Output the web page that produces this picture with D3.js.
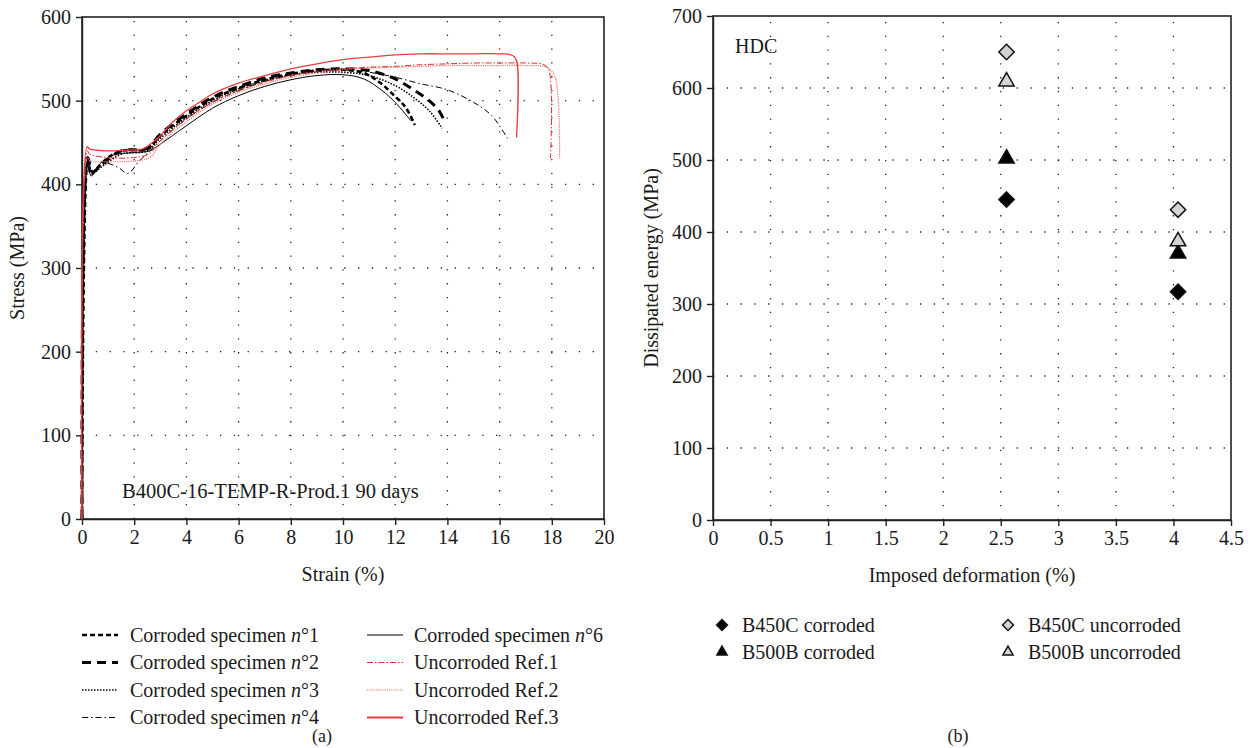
<!DOCTYPE html>
<html>
<head>
<meta charset="utf-8">
<script src="https://cdn.jsdelivr.net/npm/d3@7"></script>
<style>
  body { margin: 0; background: #fff; }
  svg text { font-family: "Liberation Serif", "Times New Roman", serif; fill: #1a1a1a; }
</style>
</head>
<body>
<div id="chart"></div>
<script>
// ---- data: panel (a), stress-strain curves [strain %, stress MPa]
const spec1 = [[0,0],[0.22,430],[0.35,412],[0.6,420],[1.0,432],[1.5,440],[2.0,441],[2.5,442],[3.0,458],[4.0,482],[5.0,502],[6.0,515],[7.0,525],[8.0,532],[9.0,536],[10.0,537],[10.8,533],[11.4,522],[12.0,505],[12.4,492],[12.75,471]];
const spec2 = [[0,0],[0.22,432],[0.4,415],[0.8,425],[1.5,440],[2.5,443],[3.0,460],[4.0,484],[5.0,504],[6.0,517],[7.0,527],[8.0,533],[9.0,537],[10.0,538],[11.0,536],[12.0,526],[12.7,513],[13.3,500],[13.7,487],[13.9,474]];
const spec3 = [[0,0],[0.22,428],[0.4,414],[0.8,422],[1.5,436],[2.5,440],[3.0,455],[4.0,480],[5.0,500],[6.0,514],[7.0,524],[8.0,531],[9.0,534],[10.0,534],[11.0,530],[12.0,518],[12.7,504],[13.3,488],[13.8,467]];
const spec4 = [[0,0],[0.22,430],[0.4,415],[0.9,425],[1.4,420],[1.75,413],[2.2,428],[2.6,440],[3.0,452],[4.0,478],[5.0,498],[6.0,512],[7.0,523],[8.0,530],[9.0,535],[10.0,537],[11.0,534],[12.0,528],[13.0,520],[14.0,513],[15.0,498],[15.7,482],[16.3,455]];
const spec6 = [[0,0],[0.22,425],[0.35,410],[0.7,425],[1.2,435],[2.0,438],[2.6,440],[3.0,448],[4.0,470],[5.0,491],[6.0,506],[7.0,517],[8.0,525],[9.0,530],[10.0,531],[10.8,526],[11.5,512],[12.0,498],[12.6,476]];
const ref1 = [[0,0],[0.2,440],[0.3,436],[1.0,432],[2.0,432],[2.6,437],[3.0,452],[4.0,478],[5.0,498],[6.0,512],[7.0,522],[8.0,530],[9.0,535],[10.0,538],[11.0,540],[12.0,541],[13.0,543],[14.0,544],[15.0,545],[16.0,545],[17.0,545],[17.7,543],[17.9,535],[17.95,431]];
const ref2 = [[0,0],[0.2,432],[0.3,428],[1.0,427],[2.0,428],[2.6,432],[3.0,448],[4.0,475],[5.0,496],[6.0,510],[7.0,520],[8.0,528],[9.0,533],[10.0,537],[11.0,539],[12.0,540],[13.0,541],[14.0,542],[15.0,542],[16.0,542],[17.0,542],[17.8,540],[18.1,530],[18.25,500],[18.3,431]];
const ref3 = [[0,0],[0.2,445],[0.3,442],[1.0,440],[1.8,441],[2.3,442],[2.7,450],[3.0,458],[3.5,475],[4.0,488],[4.6,500],[5.0,508],[6.0,521],[7.0,530],[8.0,538],[9.0,544],[10.0,549],[11.0,552],[12.2,555],[13.0,556],[14.0,556],[15.0,556],[16.0,556],[16.5,554],[16.65,548],[16.65,456]];

const curveNames = ["Corroded specimen n\u00b01", "Corroded specimen n\u00b02", "Corroded specimen n\u00b03",
  "Corroded specimen n\u00b04", "Corroded specimen n\u00b06", "Uncorroded Ref.1", "Uncorroded Ref.2", "Uncorroded Ref.3"];
const strainTicks = [0, 2, 4, 6, 8, 10, 12, 14, 16, 18, 20];
const stressTicks = [0, 100, 200, 300, 400, 500, 600];

// ---- data: panel (b), dissipated energy
const imposedDef = [2.55, 4.04];
const b450cCorroded = [445, 317];
const b500bCorroded = [502, 370];
const b450cUncorroded = [650, 431];
const b500bUncorroded = [609, 387];
const pointNames = ["B450C corroded", "B500B corroded", "B450C uncorroded", "B500B uncorroded"];
const defTicks = [0, 0.5, 1, 1.5, 2, 2.5, 3, 3.5, 4, 4.5];
const energyTicks = [0, 100, 200, 300, 400, 500, 600, 700];

const W = 1252, H = 748;
const FS = 20;
const svg = d3.select("#chart").append("svg").attr("width", W).attr("height", H);

const red = "#e42a2a";
const styles = [
  {stroke: "#000", width: 2.6, dash: "5,3"},
  {stroke: "#000", width: 3, dash: "9,6"},
  {stroke: "#000", width: 1.6, dash: "1.5,1.5"},
  {stroke: "#000", width: 1, dash: "6,3,1.5,3"},
  {stroke: "#000", width: 1, dash: null},
  {stroke: red, width: 1, dash: "6,2,1.5,2"},
  {stroke: "#f07070", width: 1.2, dash: "1.2,1"},
  {stroke: "#e63c3c", width: 1.3, dash: null}
];

function frame(g, x, y, xTicks, yTicks, fmtX) {
  let [x0, x1] = x.range();
  let [y0, y1] = y.range();
  // dotted grid
  g.selectAll(".gx").data(xTicks.slice(1, -1)).join("line")
    .attr("x1", d => x(d)).attr("x2", d => x(d)).attr("y1", y0).attr("y2", y1)
    .attr("stroke", "#222").attr("stroke-width", 1.3).attr("stroke-dasharray", "1.3,12.5");
  g.selectAll(".gy").data(yTicks.slice(1, -1)).join("line")
    .attr("class", "gy")
    .attr("x1", x0).attr("x2", x1).attr("y1", d => y(d)).attr("y2", d => y(d))
    .attr("stroke", "#222").attr("stroke-width", 1.3).attr("stroke-dasharray", "1.3,12.5");

  g.append("g").attr("transform", `translate(0,${y0})`)
    .call(d3.axisBottom(x).tickValues(xTicks).tickSize(6).tickSizeOuter(0).tickPadding(5).tickFormat(fmtX))
    .call(a => a.selectAll("text").attr("font-size", FS));
  g.append("g").attr("transform", `translate(${x0},0)`)
    .call(d3.axisLeft(y).tickValues(yTicks).tickSize(6).tickSizeOuter(0).tickPadding(5))
    .call(a => a.selectAll("text").attr("font-size", FS));
  g.selectAll(".domain, .tick line").attr("stroke", "#222").attr("stroke-width", 1.4);

  g.append("rect").attr("x", x0).attr("y", y1).attr("width", x1 - x0).attr("height", y0 - y1)
    .attr("fill", "none").attr("stroke", "#222").attr("stroke-width", 1.6);
}

// ---------- panel (a)
const xa = d3.scaleLinear().domain([0, 20]).range([82, 604]);
const ya = d3.scaleLinear().domain([0, 600]).range([519, 17]);
const ga = svg.append("g");
frame(ga, xa, ya, strainTicks, stressTicks, d3.format("d"));

const line = d3.line().x(d => xa(d[0])).y(d => ya(d[1])).curve(d3.curveCatmullRom.alpha(0.5));
const curves = [spec1, spec2, spec3, spec4, spec6, ref1, ref2, ref3];
// black first, red on top
const order = [4, 3, 2, 0, 1, 6, 5, 7];
order.forEach(i => {
  ga.append("path").datum(curves[i]).attr("d", line)
    .attr("fill", "none")
    .attr("stroke", styles[i].stroke)
    .attr("stroke-width", styles[i].width)
    .attr("stroke-dasharray", styles[i].dash);
});

ga.append("text").attr("x", 122).attr("y", 498).attr("font-size", 20.5)
  .text("B400C-16-TEMP-R-Prod.1 90 days");
ga.append("text").attr("x", 343).attr("y", 581).attr("text-anchor", "middle").attr("font-size", FS)
  .text("Strain (%)");
ga.append("text").attr("transform", "translate(24,268) rotate(-90)").attr("text-anchor", "middle")
  .attr("font-size", FS).text("Stress (MPa)");

// legend (a)
const legA = ga.append("g");
curveNames.forEach((name, i) => {
  let col = i < 4 ? 0 : 1;
  let row = i < 4 ? i : i - 4;
  let lx = col === 0 ? 82 : 367;
  let ly = 635 + row * 27.5;
  legA.append("line").attr("x1", lx).attr("x2", lx + 36).attr("y1", ly).attr("y2", ly)
    .attr("stroke", styles[i].stroke).attr("stroke-width", i === 7 ? 2 : styles[i].width)
    .attr("stroke-dasharray", styles[i].dash);
  let parts = name.match(/^(.*?)(n)(\u00b0\d)$/);
  let t = legA.append("text").attr("x", col === 0 ? 130 : 414).attr("y", ly + 6.5).attr("font-size", FS);
  if (parts) {
    t.append("tspan").text(parts[1]);
    t.append("tspan").attr("font-style", "italic").text(parts[2]);
    t.append("tspan").text(parts[3]);
  } else {
    t.text(name);
  }
});
ga.append("text").attr("x", 322).attr("y", 742).attr("text-anchor", "middle").attr("font-size", 18).text("(a)");

// ---------- panel (b)
const xb = d3.scaleLinear().domain([0, 4.5]).range([713, 1231]);
const yb = d3.scaleLinear().domain([0, 700]).range([520, 16]);
const gb = svg.append("g");
frame(gb, xb, yb, defTicks, energyTicks, d => d3.format("")(d));

const diamond = d3.symbol().type(d3.symbolDiamond2);
const triangle = d3.symbol().type(d3.symbolTriangle2);
const sets = [
  {vals: b450cCorroded, sym: diamond, fill: "#000", size: 150},
  {vals: b500bCorroded, sym: triangle, fill: "#000", size: 170},
  {vals: b450cUncorroded, sym: diamond, fill: "#d4d4d4", size: 150},
  {vals: b500bUncorroded, sym: triangle, fill: "#d4d4d4", size: 170}
];
sets.forEach(s => {
  gb.selectAll(null).data(s.vals).join("path")
    .attr("transform", (d, i) => `translate(${xb(imposedDef[i])},${yb(d)})`)
    .attr("d", s.sym.size(s.size)())
    .attr("fill", s.fill).attr("stroke", "#111").attr("stroke-width", 1.5)
    .attr("stroke-linejoin", "miter");
});

gb.append("text").attr("x", 735).attr("y", 53).attr("font-size", FS).text("HDC");
gb.append("text").attr("x", 972).attr("y", 582).attr("text-anchor", "middle").attr("font-size", FS)
  .text("Imposed deformation (%)");
gb.append("text").attr("transform", "translate(658,268) rotate(-90)").attr("text-anchor", "middle")
  .attr("font-size", FS).text("Dissipated energy (MPa)");

// legend (b)
pointNames.forEach((name, i) => {
  let col = i < 2 ? 0 : 1;
  let row = i % 2;
  let mx = col === 0 ? 722 : 1008;
  let my = 625 + row * 27;
  gb.append("path").attr("transform", `translate(${mx},${my})`)
    .attr("d", sets[i].sym.size(75)())
    .attr("fill", sets[i].fill).attr("stroke", "#111").attr("stroke-width", 1.5);
  gb.append("text").attr("x", mx + 20).attr("y", my + 6.5).attr("font-size", FS).text(name);
});
gb.append("text").attr("x", 958).attr("y", 742).attr("text-anchor", "middle").attr("font-size", 18).text("(b)");
</script>
</body>
</html>
